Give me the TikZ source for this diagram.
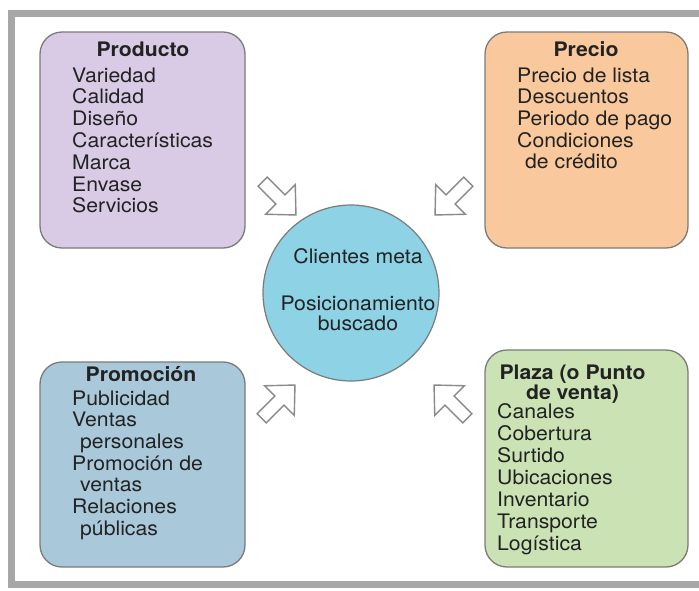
\documentclass[tikz,border=0pt]{standalone}
\usepackage{fontspec}
\setmainfont{TeX Gyre Heros}[FakeStretch=1.06]
\usepackage{xcolor}
\definecolor{marco}{HTML}{A7A7A7}
\definecolor{borde}{HTML}{7B7B7B}
\definecolor{flechagris}{HTML}{8A8A8A}
\definecolor{lila}{HTML}{D9CBE5}
\definecolor{durazno}{HTML}{FAC89D}
\definecolor{azulgris}{HTML}{A9C9DB}
\definecolor{verdeclaro}{HTML}{CBE3B4}
\definecolor{celeste}{HTML}{8DD2E5}
\definecolor{tinta}{HTML}{222222}

\tikzset{
  caja/.style={draw=borde, line width=1.3pt, rounded corners=22pt, inner sep=0pt},
  titulo/.style={font=\bfseries\fontsize{20}{22}\selectfont, text=tinta, inner sep=0pt, anchor=base},
  renglon/.style={font=\fontsize{20}{22}\selectfont, text=tinta, inner sep=0pt, anchor=base west},
  flecha/.pic={
    \filldraw[fill=white, draw=flechagris, line width=1.4pt, line join=miter]
      (24,0) -- (2,21) -- (2,6.5) -- (-23,6.5) -- (-23,-6.5) -- (2,-6.5) -- (2,-21) -- cycle;
  }
}

\begin{document}
\begin{tikzpicture}[x=1pt, y=-1pt]
  \useasboundingbox[fill=white] (0,0) rectangle (699,590);
  % marco gris
  \draw[marco, line width=7pt, line join=miter] (699,13.5) -- (11.5,13.5) -- (11.5,584.5) -- (699,584.5);

  % las cuatro cajas
  \node[caja, fill=lila, minimum width=205pt, minimum height=216pt] (producto) at (142.5,140) {};
  \node[caja, fill=durazno, minimum width=203pt, minimum height=216pt] (precio) at (586.5,140) {};
  \node[caja, fill=azulgris, minimum width=205pt, minimum height=205pt] (promocion) at (142.5,464.5) {};
  \node[caja, fill=verdeclaro, minimum width=203pt, minimum height=217pt] (plaza) at (586.5,458.5) {};

  % centro
  \node[circle, draw=borde, fill=celeste, line width=1.2pt, minimum size=176pt, inner sep=0pt] (clientes) at (351,293) {};
  \node[renglon, anchor=base] (cli-1) at (358,263) {Clientes meta};
  \node[renglon, anchor=base] (cli-2) at (358,310) {Posicionamiento};
  \node[renglon, anchor=base] (cli-3) at (358,330) {buscado};

  % Producto
  \node[titulo] (producto-t) at (143,56) {Producto};
  \foreach \t [count=\i] in {Variedad,Calidad,Diseño,Características,Marca,Envase,Servicios}
    \node[renglon] (producto-\i) at (72,82+21.8*\i-21.8) {\t};

  % Precio
  \node[titulo] (precio-t) at (586,56) {Precio};
  \foreach \t [count=\i] in {Precio de lista,Descuentos,Periodo de pago,Condiciones,\hspace{8pt}de crédito}
    \node[renglon] (precio-\i) at (517,82+21.7*\i-21.7) {\t};

  % Promocion
  \node[titulo] (promocion-t) at (141,381) {Promoción};
  \foreach \t [count=\i] in {Publicidad,Ventas,\hspace{8pt}personales,Promoción de,\hspace{8pt}ventas,Relaciones,\hspace{8pt}públicas}
    \node[renglon] (promocion-\i) at (72,405+21.7*\i-21.7) {\t};

  % Plaza
  \node[titulo, anchor=north, align=center, font=\bfseries\fontsize{20}{16.5}\selectfont] (plaza-t) at (572.5,365) {Plaza (o Punto\\de venta)};
  \foreach \t [count=\i] in {Canales,Cobertura,Surtido,Ubicaciones,Inventario,Transporte,Logística}
    \node[renglon] (plaza-\i) at (497,418+22*\i-22) {\t};

  % flechas huecas hacia el centro
  \pic[rotate=-45] at (279,198) {flecha};
  \pic[rotate=-135] at (452,198) {flecha};
  \pic[rotate=45] at (278,402) {flecha};
  \pic[rotate=135] at (451,402) {flecha};
\end{tikzpicture}
\end{document}
